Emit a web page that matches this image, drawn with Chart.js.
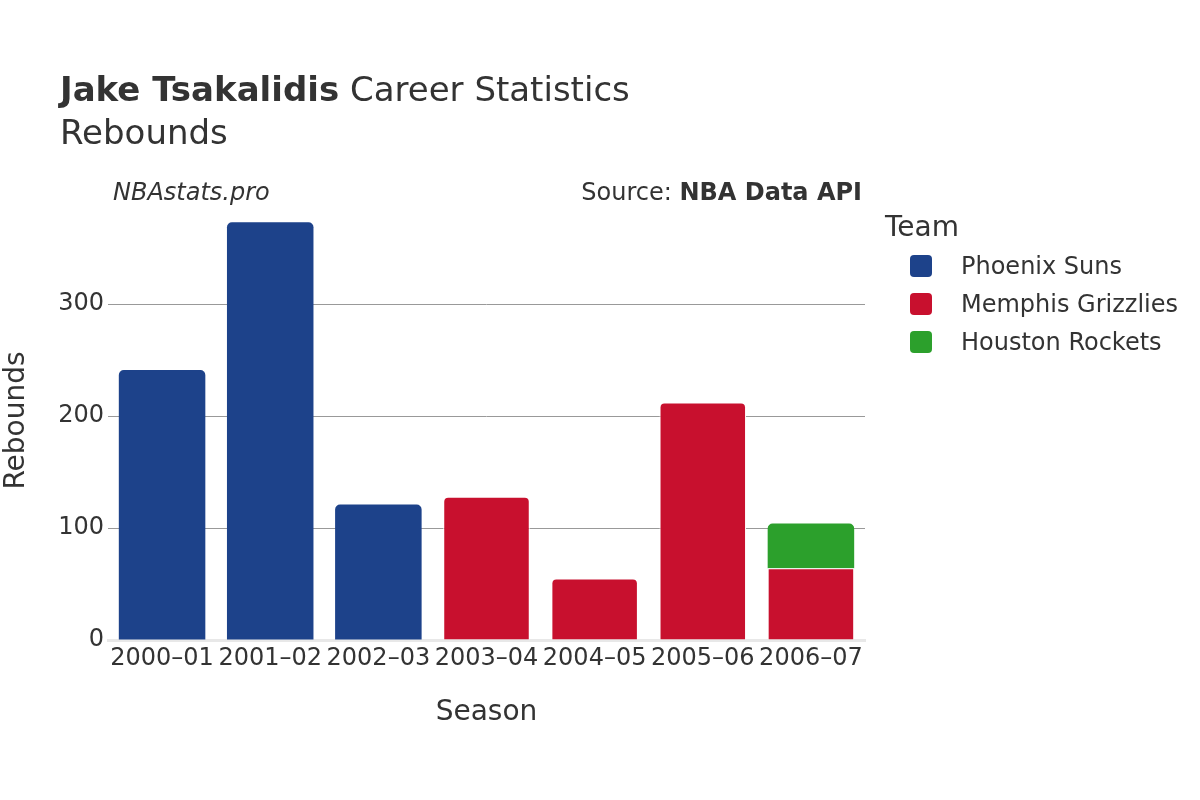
<!DOCTYPE html>
<html>
<head>
<meta charset="utf-8">
<script src="https://cdn.jsdelivr.net/npm/chart.js@4"></script>
<style>
  html, body { margin: 0; padding: 0; background: #fff; }
  #wrap { width: 1200px; height: 800px; }
</style>
</head>
<body>
<div id="wrap"><canvas id="chart" width="1200" height="800"></canvas></div>
<script>
// Dados
const seasons = ['2000–01', '2001–02', '2002–03', '2003–04', '2004–05', '2005–06', '2006–07'];
const phoenixSuns = [241, 373, 121, null, null, null, null];
const memphisGrizzlies = [null, null, null, 128, 55, 212, 64];
const houstonRockets = [null, null, null, null, null, null, 40];
const yTicks = [0, 100, 200, 300];

const teams = [
  { label: 'Phoenix Suns', color: '#1D428A', data: phoenixSuns },
  { label: 'Memphis Grizzlies', color: '#C8102E', data: memphisGrizzlies },
  { label: 'Houston Rockets', color: '#2CA02C', data: houstonRockets }
];

const FONT = '"DejaVu Sans", sans-serif';
const TEXT = '#333333';

// Títulos, anotações e legenda desenhados à mão
const decorPlugin = {
  id: 'decor',
  afterDraw(chart) {
    const ctx = chart.ctx;
    ctx.save();
    ctx.fillStyle = TEXT;
    ctx.textBaseline = 'alphabetic';
    ctx.textAlign = 'left';

    ctx.font = 'bold 34px ' + FONT;
    const nome = 'Jake Tsakalidis';
    ctx.fillText(nome, 60, 101);
    const w = ctx.measureText(nome).width;
    ctx.font = '34px ' + FONT;
    ctx.fillText(' Career Statistics', 60 + w, 101);
    ctx.fillText('Rebounds', 60, 144);

    ctx.textBaseline = 'middle';
    ctx.font = 'italic 24px ' + FONT;
    ctx.fillText('NBAstats.pro', 113, 194);

    ctx.textAlign = 'right';
    ctx.font = 'bold 24px ' + FONT;
    const fonte = 'NBA Data API';
    ctx.fillText(fonte, 862, 194);
    const fw = ctx.measureText(fonte).width;
    ctx.font = '24px ' + FONT;
    ctx.fillText('Source: ', 862 - fw, 194);

    // Legenda
    ctx.textAlign = 'left';
    ctx.font = '28px ' + FONT;
    ctx.fillText('Team', 885, 229);
    ctx.font = '24px ' + FONT;
    teams.forEach((t, i) => {
      const y = 266 + i * 38;
      ctx.fillStyle = t.color;
      ctx.beginPath();
      ctx.roundRect(910, y - 11, 22, 22, 4);
      ctx.fill();
      ctx.fillStyle = TEXT;
      ctx.fillText(t.label, 961, y + 2);
    });
    ctx.restore();
  }
};

const ctx = document.getElementById('chart').getContext('2d');
new Chart(ctx, {
  type: 'bar',
  data: {
    labels: seasons,
    datasets: teams.map(t => ({
      label: t.label,
      data: t.data,
      backgroundColor: t.color,
      borderColor: '#ffffff',
      borderWidth: t.label === 'Memphis Grizzlies' ? 1 : 0,
      borderRadius: 5,
      barPercentage: 0.8,
      categoryPercentage: 1
    }))
  },
  options: {
    responsive: false,
    animation: false,
    layout: { padding: { top: 201, right: 335, bottom: 0, left: 0 } },
    plugins: {
      legend: { display: false },
      tooltip: { enabled: false }
    },
    scales: {
      x: {
        stacked: true,
        grid: { display: false, drawTicks: false, tickLength: 0 },
        border: { display: true, color: '#e8e8e8', width: 3 },
        ticks: { color: TEXT, font: { family: FONT, size: 24 }, padding: 4, maxRotation: 0 },
        title: { display: true, text: 'Season', color: TEXT, font: { family: FONT, size: 28 }, padding: { top: 0, bottom: 70 } },
        afterFit(scale) { scale.height = 160; }
      },
      y: {
        stacked: true,
        min: 0,
        max: 392,
        afterBuildTicks(scale) { scale.ticks = yTicks.map(v => ({ value: v })); },
        grid: {
          color: c => c.tick && c.tick.value === 0 ? 'rgba(0,0,0,0)' : '#999999',
          lineWidth: 1,
          drawTicks: false
        },
        border: { display: false },
        ticks: { color: TEXT, font: { family: FONT, size: 24 }, padding: 4 },
        title: { display: true, text: 'Rebounds', color: TEXT, font: { family: FONT, size: 28 }, padding: { top: 0, bottom: 0 } },
        afterFit(scale) { scale.width = 108; }
      }
    }
  },
  plugins: [decorPlugin]
});
</script>
</body>
</html>
